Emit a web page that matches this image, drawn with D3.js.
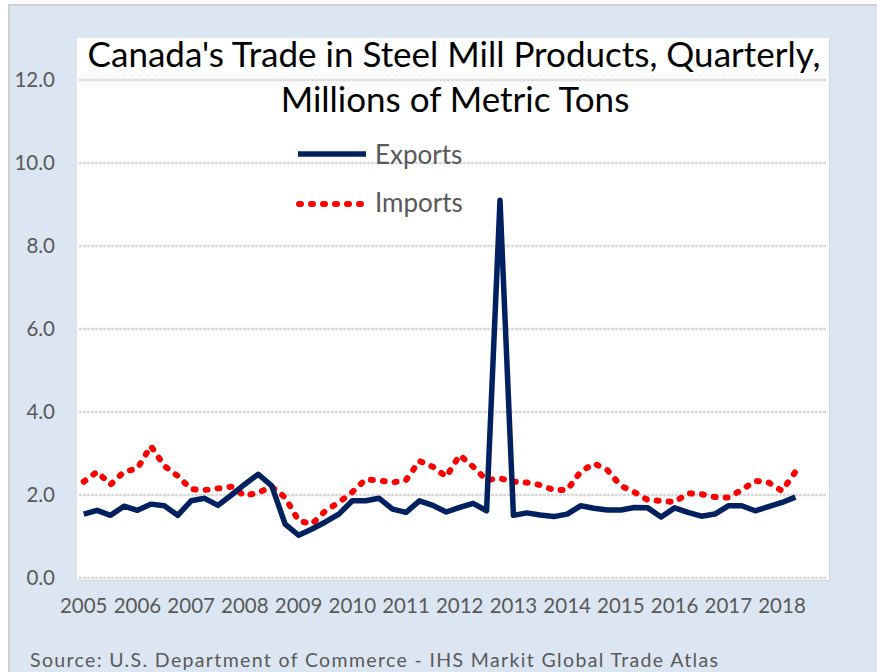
<!DOCTYPE html>
<html>
<head>
<meta charset="utf-8">
<script src="https://cdn.jsdelivr.net/npm/d3@7"></script>
<style>
  body { margin: 0; background: #fff; }
  text { font-family: Lato, "Open Sans", sans-serif; }
</style>
</head>
<body>
<div class="container"></div>
<script>
const WIDTH = 877;
const HEIGHT = 672;

// quarterly categories, 2005 Q1 .. 2018 Q4 (last two quarters have no data)
const years = [2005, 2006, 2007, 2008, 2009, 2010, 2011, 2012, 2013, 2014, 2015, 2016, 2017, 2018];
const quarters = ['Q1', 'Q2', 'Q3', 'Q4'];
const yTicks = [0, 2, 4, 6, 8, 10, 12];

// millions of metric tons
const exportsData = [
  1.54, 1.63, 1.51, 1.73, 1.63, 1.78, 1.74, 1.51, 1.86, 1.92, 1.75, 2.0, 2.26, 2.5,
  2.22, 1.3, 1.03, 1.18, 1.35, 1.54, 1.86, 1.86, 1.92, 1.66, 1.58, 1.86, 1.75, 1.59,
  1.7, 1.8, 1.62, 9.1, 1.51, 1.57, 1.52, 1.48, 1.54, 1.74, 1.68, 1.64, 1.64, 1.7,
  1.69, 1.47, 1.69, 1.58, 1.49, 1.54, 1.74, 1.74, 1.62, 1.72, 1.82, 1.95
];
const importsData = [
  2.32, 2.56, 2.25, 2.56, 2.64, 3.18, 2.7, 2.46, 2.14, 2.12, 2.16, 2.2, 1.98, 2.06,
  2.2, 1.94, 1.38, 1.3, 1.62, 1.82, 2.07, 2.38, 2.35, 2.3, 2.36, 2.82, 2.68, 2.44,
  2.96, 2.68, 2.36, 2.4, 2.32, 2.3, 2.24, 2.12, 2.12, 2.56, 2.76, 2.6, 2.22, 2.07,
  1.88, 1.86, 1.83, 2.04, 2.02, 1.95, 1.94, 2.12, 2.34, 2.3, 2.1, 2.56
];

const categories = years.flatMap(y => quarters.map(q => y + ' ' + q));

var display = function () {
  var svg = d3.select('.container').append('svg')
    .attr('width', WIDTH)
    .attr('height', HEIGHT);

  // outer chart area
  svg.append('rect')
    .attr('x', 9).attr('y', 5)
    .attr('width', WIDTH).attr('height', HEIGHT)
    .attr('fill', '#dce6f2')
    .attr('stroke', '#d0d0d0')
    .attr('stroke-width', 2);

  var plot = { left: 77, top: 38, right: 829, bottom: 580 };

  // plot area with a soft shadow
  svg.append('rect')
    .attr('x', plot.left + 1).attr('y', plot.top + 1)
    .attr('width', plot.right - plot.left).attr('height', plot.bottom - plot.top)
    .attr('fill', '#cfd6df');
  svg.append('rect')
    .attr('x', plot.left).attr('y', plot.top)
    .attr('width', plot.right - plot.left).attr('height', plot.bottom - plot.top)
    .attr('fill', '#fff');

  var x = d3.scaleBand()
    .domain(categories)
    .range([plot.left, plot.right]);
  var y = d3.scaleLinear()
    .domain([0, 12])
    .range([578, 80]);
  var cx = function (i) { return x(categories[i]) + x.bandwidth() / 2; };

  // gridlines
  svg.append('g')
    .selectAll('line')
    .data(yTicks)
    .join('line')
    .attr('x1', plot.left + 2)
    .attr('x2', plot.right - 2)
    .attr('y1', d => y(d))
    .attr('y2', d => y(d))
    .attr('stroke', '#d9d9d9')
    .attr('stroke-width', 2.5)
    .attr('stroke-dasharray', '3,1');

  // y axis labels
  var yAxis = d3.axisLeft(y)
    .tickValues(yTicks)
    .tickFormat(d3.format('.1f'))
    .tickSize(0)
    .tickPadding(0);
  var gy = svg.append('g')
    .attr('transform', 'translate(55,0)')
    .call(yAxis);
  gy.select('.domain').remove();
  gy.selectAll('text')
    .attr('fill', '#595959')
    .style('font-size', '20.5px')
    .style('font-family', 'Lato, sans-serif');

  // x axis labels: one per year, at first quarter
  var xAxis = d3.axisBottom(x)
    .tickValues(categories.filter((c, i) => i % 4 === 0))
    .tickFormat(c => c.slice(0, 4))
    .tickSize(0)
    .tickPadding(0);
  var gx = svg.append('g')
    .attr('transform', 'translate(0,598)')
    .call(xAxis);
  gx.select('.domain').remove();
  gx.selectAll('text')
    .attr('fill', '#595959')
    .style('font-size', '20.5px')
    .style('font-family', 'Lato, sans-serif');

  var line = d3.line()
    .x((d, i) => cx(i))
    .y(d => y(d));

  svg.append('path')
    .datum(importsData)
    .attr('d', line)
    .attr('fill', 'none')
    .attr('stroke', '#ff0000')
    .attr('stroke-width', 6)
    .attr('stroke-linecap', 'round')
    .attr('stroke-linejoin', 'round')
    .attr('stroke-dasharray', '2,10');

  svg.append('path')
    .datum(exportsData)
    .attr('d', line)
    .attr('fill', 'none')
    .attr('stroke', '#002060')
    .attr('stroke-width', 5.5)
    .attr('stroke-linejoin', 'round');

  // title
  var title = svg.append('text')
    .attr('text-anchor', 'middle')
    .attr('fill', '#000')
    .style('font-size', '35px');
  title.append('tspan').attr('x', 454).attr('y', 67)
    .text("Canada's Trade in Steel Mill Products, Quarterly,");
  title.append('tspan').attr('x', 455).attr('y', 112)
    .text('Millions of Metric Tons');

  // legend
  var legend = svg.append('g');
  legend.append('line')
    .attr('x1', 298).attr('x2', 366)
    .attr('y1', 154).attr('y2', 154)
    .attr('stroke', '#002060')
    .attr('stroke-width', 5.5);
  legend.append('text')
    .attr('x', 375).attr('y', 164)
    .attr('fill', '#595959')
    .style('font-size', '26px')
    .text('Exports');
  legend.append('line')
    .attr('x1', 299).attr('x2', 366)
    .attr('y1', 204).attr('y2', 204)
    .attr('stroke', '#ff0000')
    .attr('stroke-width', 6)
    .attr('stroke-linecap', 'round')
    .attr('stroke-dasharray', '2,10');
  legend.append('text')
    .attr('x', 375).attr('y', 212)
    .attr('fill', '#595959')
    .style('font-size', '26px')
    .text('Imports');

  // source note
  svg.append('text')
    .attr('x', 30).attr('y', 667)
    .attr('fill', '#595959')
    .attr('textLength', 688)
    .attr('lengthAdjust', 'spacing')
    .style('font-size', '19.5px')
    .text('Source: U.S. Department of Commerce - IHS Markit Global Trade Atlas');
};

window.onload = display;
</script>
</body>
</html>
